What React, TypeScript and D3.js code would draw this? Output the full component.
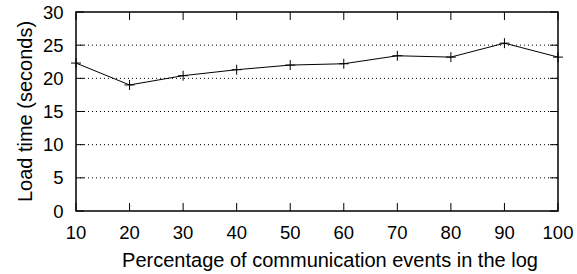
import React from "react";
import * as d3 from "d3";

// percentage of communication events
const percents = [10, 20, 30, 40, 50, 60, 70, 80, 90, 100];
// load time in seconds
const loadTimes = [22.3, 19.0, 20.4, 21.3, 22.0, 22.2, 23.4, 23.2, 25.3, 23.2];
const yTicks = [0, 5, 10, 15, 20, 25, 30];

const App = () => {
  const width = 577;
  const height = 274;
  const margin = { top: 12, right: 19, bottom: 63, left: 76 };
  const innerW = width - margin.left - margin.right;
  const innerH = height - margin.top - margin.bottom;

  const x = d3.scaleLinear().domain([10, 100]).range([0, innerW]);
  const y = d3.scaleLinear().domain([0, 30]).range([innerH, 0]);

  const line = d3
    .line<number>()
    .x((_, i) => x(percents[i]))
    .y((d) => y(d));

  const tickLen = 8;
  const font = "'Liberation Sans', Arial, sans-serif";

  return (
    <svg
      width={width}
      height={height}
      style={{ position: "absolute", left: 0, top: 0 }}
      fontFamily={font}
    >
      <rect width={width} height={height} fill="#fff" />
      <g transform={`translate(${margin.left},${margin.top})`}>
        {/* grid */}
        {yTicks
          .filter((t) => t > 0 && t < 30)
          .map((t) => (
            <line
              key={"g" + t}
              x1={0}
              x2={innerW}
              y1={y(t)}
              y2={y(t)}
              stroke="#000"
              strokeWidth={1}
              strokeDasharray="1,3"
            />
          ))}
        {/* y ticks */}
        {yTicks.map((t) => (
          <g key={"y" + t}>
            <line x1={0} x2={tickLen} y1={y(t)} y2={y(t)} stroke="#000" />
            <line x1={innerW - tickLen} x2={innerW} y1={y(t)} y2={y(t)} stroke="#000" />
            <text
              x={-12.5}
              y={y(t)}
              dy="0.36em"
              textAnchor="end"
              fontSize={18.5}
              fill="#000"
            >
              {t}
            </text>
          </g>
        ))}
        {/* x ticks */}
        {percents.map((p) => (
          <g key={"x" + p}>
            <line x1={x(p)} x2={x(p)} y1={innerH} y2={innerH - tickLen} stroke="#000" />
            <line x1={x(p)} x2={x(p)} y1={0} y2={tickLen} stroke="#000" />
            <text
              x={x(p)}
              y={innerH + 28}
              textAnchor="middle"
              fontSize={18.5}
              fill="#000"
            >
              {p}
            </text>
          </g>
        ))}
        {/* data */}
        <path d={line(loadTimes) || ""} fill="none" stroke="#000" strokeWidth={1} />
        {loadTimes.map((v, i) => (
          <g key={"m" + i} stroke="#000" strokeWidth={1}>
            <line x1={x(percents[i]) - 5} x2={x(percents[i]) + 5} y1={y(v)} y2={y(v)} />
            <line x1={x(percents[i])} x2={x(percents[i])} y1={y(v) - 5} y2={y(v) + 5} />
          </g>
        ))}
        {/* frame */}
        <rect
          x={0}
          y={0}
          width={innerW}
          height={innerH}
          fill="none"
          stroke="#000"
          strokeWidth={1.5}
        />
        <text
          x={254}
          y={innerH + 56}
          textAnchor="middle"
          fontSize={20}
          fill="#000"
        >
          Percentage of communication events in the log
        </text>
        <text
          transform={`translate(${-44},${innerH / 2}) rotate(-90)`}
          textAnchor="middle"
          fontSize={20}
          fill="#000"
        >
          Load time (seconds)
        </text>
      </g>
    </svg>
  );
};

export default App;
